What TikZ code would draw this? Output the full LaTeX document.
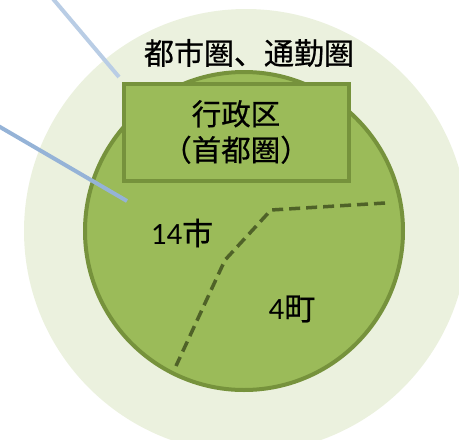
\documentclass[tikz,border=0pt]{standalone}
\usepackage{fontspec}
\setmainfont{Carlito}
\newfontfamily\cjk[FakeBold=0.6]{Noto Sans CJK JP}
\definecolor{outerfill}{HTML}{EBF1DE}
\definecolor{greenfill}{HTML}{9BBB59}
\definecolor{greenline}{HTML}{76923C}
\definecolor{darkdash}{HTML}{4F6228}
\definecolor{blueA}{HTML}{B9CDE5}
\definecolor{blueB}{HTML}{95B3D7}
\tikzset{
  zone/.style={circle, inner sep=0pt, outer sep=0pt},
  box/.style={draw=greenline, fill=greenfill, line width=4pt, rectangle, inner sep=0pt, outer sep=0pt},
  lbl/.style={inner sep=0pt, text=black},
  border/.style={draw=darkdash, line width=3.5pt, dash pattern=on 11pt off 6pt},
  pointer/.style={line width=4pt},
}
\begin{document}
\begin{tikzpicture}[x=1pt,y=-1pt]
\useasboundingbox (0,0) rectangle (459,440);
\node[zone, fill=outerfill, minimum size=444pt] (outer) at (246,231) {};
\node[zone, fill=greenfill, draw=greenline, line width=4pt, minimum size=318pt] (inner) at (244,231) {};
\coordinate (d1) at (385,203);
\coordinate (d2) at (271,210);
\coordinate (d3) at (225,260);
\coordinate (d4) at (176,366);
\draw[border] (d1) -- (d2) -- (d3) -- (d4);
\node[box, minimum width=225pt, minimum height=97pt] (admin) at (236.5,132.5) {};
\node[lbl, font=\cjk\fontsize{29.5}{36}\selectfont, align=center] (admintxt) at (236,132) {行政区\\（首都圏）};
\node[lbl, font=\cjk\fontsize{30}{34}\selectfont] (title) at (249,53) {都市圏、通勤圏};
\node[lbl, font=\fontsize{31}{32}\selectfont] (cities) at (182,233) {14{\cjk 市}};
\node[lbl, font=\fontsize{31}{32}\selectfont] (towns) at (292,309) {4{\cjk 町}};
\coordinate (p1s) at (47.5,-7.7);
\coordinate (p1e) at (119,77);
\coordinate (p2s) at (-13,119.4);
\coordinate (p2e) at (127,201);
\draw[pointer, blueA] (p1s) -- (p1e);
\draw[pointer, blueB] (p2s) -- (p2e);
\end{tikzpicture}
\end{document}
